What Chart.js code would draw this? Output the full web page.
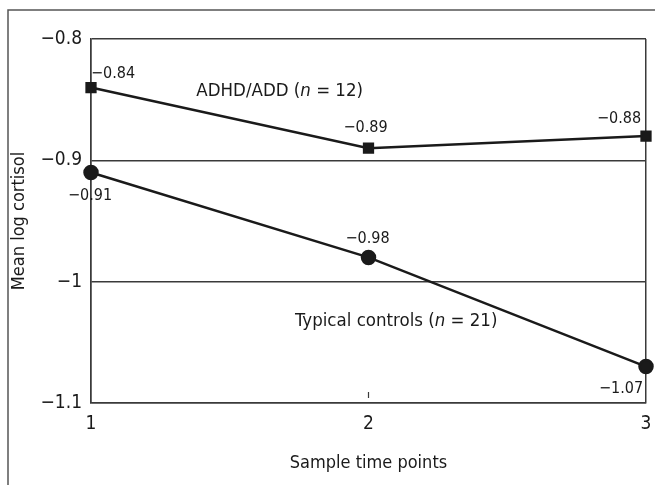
<!DOCTYPE html>
<html>
<head>
<meta charset="utf-8">
<script src="https://cdn.jsdelivr.net/npm/chart.js@4"></script>
<style>
  html, body { margin: 0; padding: 0; background: #fff; }
  #wrap { width: 655px; height: 485px; }
</style>
</head>
<body>
<div id="wrap"><canvas id="grafico" width="655" height="485"></canvas></div>
<script>
const timePoints = ['1', '2', '3'];
const adhdValues = [-0.84, -0.89, -0.88];
const controlValues = [-0.91, -0.98, -1.07];
const yTicks = [-1.1, -1, -0.9, -0.8];

const FONT = "'Liberation Sans Narrow', 'DejaVu Sans Condensed', 'Liberation Sans', sans-serif";
const INK = '#1a1a1a';
const GRID = '#3a3a3a';

function fmt(v) {
    let s = String(Math.abs(Math.round(v * 100) / 100));
    return (v < 0 ? '\u2212' : '') + s;
}

// offsets of the value labels from their points (px)
const adhdOffsets = [[22, -14], [-3, -20], [-27, -17]];
const controlOffsets = [[-1, 23], [-1, -19], [-25, 22]];

const extras = {
    id: 'extras',
    beforeDraw(chart) {
        const ctx = chart.ctx;
        ctx.save();
        ctx.strokeStyle = '#555';
        ctx.lineWidth = 1.5;
        ctx.beginPath();
        ctx.moveTo(8, 485);
        ctx.lineTo(8, 10);
        ctx.lineTo(655, 10);
        ctx.stroke();
        ctx.restore();
    },
    afterDatasetsDraw(chart) {
        const ctx = chart.ctx;
        const x = chart.scales.x, y = chart.scales.y;
        ctx.save();
        // small tick at middle time point
        ctx.strokeStyle = GRID;
        ctx.lineWidth = 1.2;
        const xm = x.getPixelForValue(1);
        ctx.beginPath();
        ctx.moveTo(xm, chart.chartArea.bottom - 11);
        ctx.lineTo(xm, chart.chartArea.bottom - 5);
        ctx.stroke();

        ctx.fillStyle = INK;
        ctx.font = '16px ' + FONT;
        ctx.textAlign = 'center';
        ctx.textBaseline = 'middle';
        chart.getDatasetMeta(0).data.forEach((p, i) => {
            ctx.fillText(fmt(adhdValues[i]), p.x + adhdOffsets[i][0], p.y + adhdOffsets[i][1]);
        });
        chart.getDatasetMeta(1).data.forEach((p, i) => {
            ctx.fillText(fmt(controlValues[i]), p.x + controlOffsets[i][0], p.y + controlOffsets[i][1]);
        });

        // series names
        drawName(ctx, ['ADHD/ADD (', 'n', ' = 12)'], x.getPixelForValue(0.68), y.getPixelForValue(-0.843));
        drawName(ctx, ['Typical controls (', 'n', ' = 21)'], x.getPixelForValue(1.10), y.getPixelForValue(-1.0325));
        ctx.restore();
    }
};

function drawName(ctx, parts, cx, cy) {
    const fonts = ['18.5px ' + FONT, 'italic 18.5px ' + FONT, '18.5px ' + FONT];
    let widths = parts.map((t, i) => { ctx.font = fonts[i]; return ctx.measureText(t).width; });
    let total = widths.reduce((a, b) => a + b, 0);
    let xx = cx - total / 2;
    ctx.textAlign = 'left';
    ctx.textBaseline = 'middle';
    parts.forEach((t, i) => {
        ctx.font = fonts[i];
        ctx.fillText(t, xx, cy);
        xx += widths[i];
    });
}

new Chart('grafico', {
    type: 'line',
    data: {
        labels: timePoints,
        datasets: [{
            label: 'ADHD/ADD (n = 12)',
            data: adhdValues,
            borderColor: INK,
            backgroundColor: INK,
            borderWidth: 2.5,
            pointStyle: 'rect',
            pointRadius: 6.2,
            clip: false
        }, {
            label: 'Typical controls (n = 21)',
            data: controlValues,
            borderColor: INK,
            backgroundColor: INK,
            borderWidth: 2.5,
            pointStyle: 'circle',
            pointRadius: 6.5,
            clip: false
        }]
    },
    options: {
        responsive: false,
        animation: false,
        layout: { padding: { left: 0, top: 39, right: 9, bottom: 0 } },
        plugins: { legend: { display: false }, tooltip: { enabled: false } },
        scales: {
            x: {
                offset: false,
                afterFit: s => { s.height = 82; s.paddingLeft = 0; s.paddingRight = 0; },
                grid: {
                    drawTicks: false,
                    color: c => (c.index === 1 ? 'rgba(0,0,0,0)' : GRID),
                    lineWidth: 1.5
                },
                border: { color: GRID, width: 1.5 },
                ticks: { color: INK, font: { family: FONT, size: 19 }, padding: 10 },
                title: {
                    display: true,
                    text: 'Sample time points',
                    color: INK,
                    font: { family: FONT, size: 18 },
                    padding: { top: 4, bottom: 11 }
                }
            },
            y: {
                min: -1.1,
                max: -0.8,
                afterFit: s => { s.width = 91; s.paddingTop = 0; s.paddingBottom = 0; },
                afterBuildTicks: s => { s.ticks = yTicks.map(v => ({ value: v })); },
                grid: { drawTicks: false, color: GRID, lineWidth: 1.5 },
                border: { color: GRID, width: 1.5 },
                ticks: {
                    color: INK,
                    font: { family: FONT, size: 19 },
                    padding: 9,
                    callback: v => fmt(Math.round(v * 10) / 10)
                },
                title: {
                    display: true,
                    text: 'Mean log cortisol',
                    color: INK,
                    font: { family: FONT, size: 18 },
                    padding: { top: 9, bottom: 0 }
                }
            }
        }
    },
    plugins: [extras]
});
</script>
</body>
</html>
